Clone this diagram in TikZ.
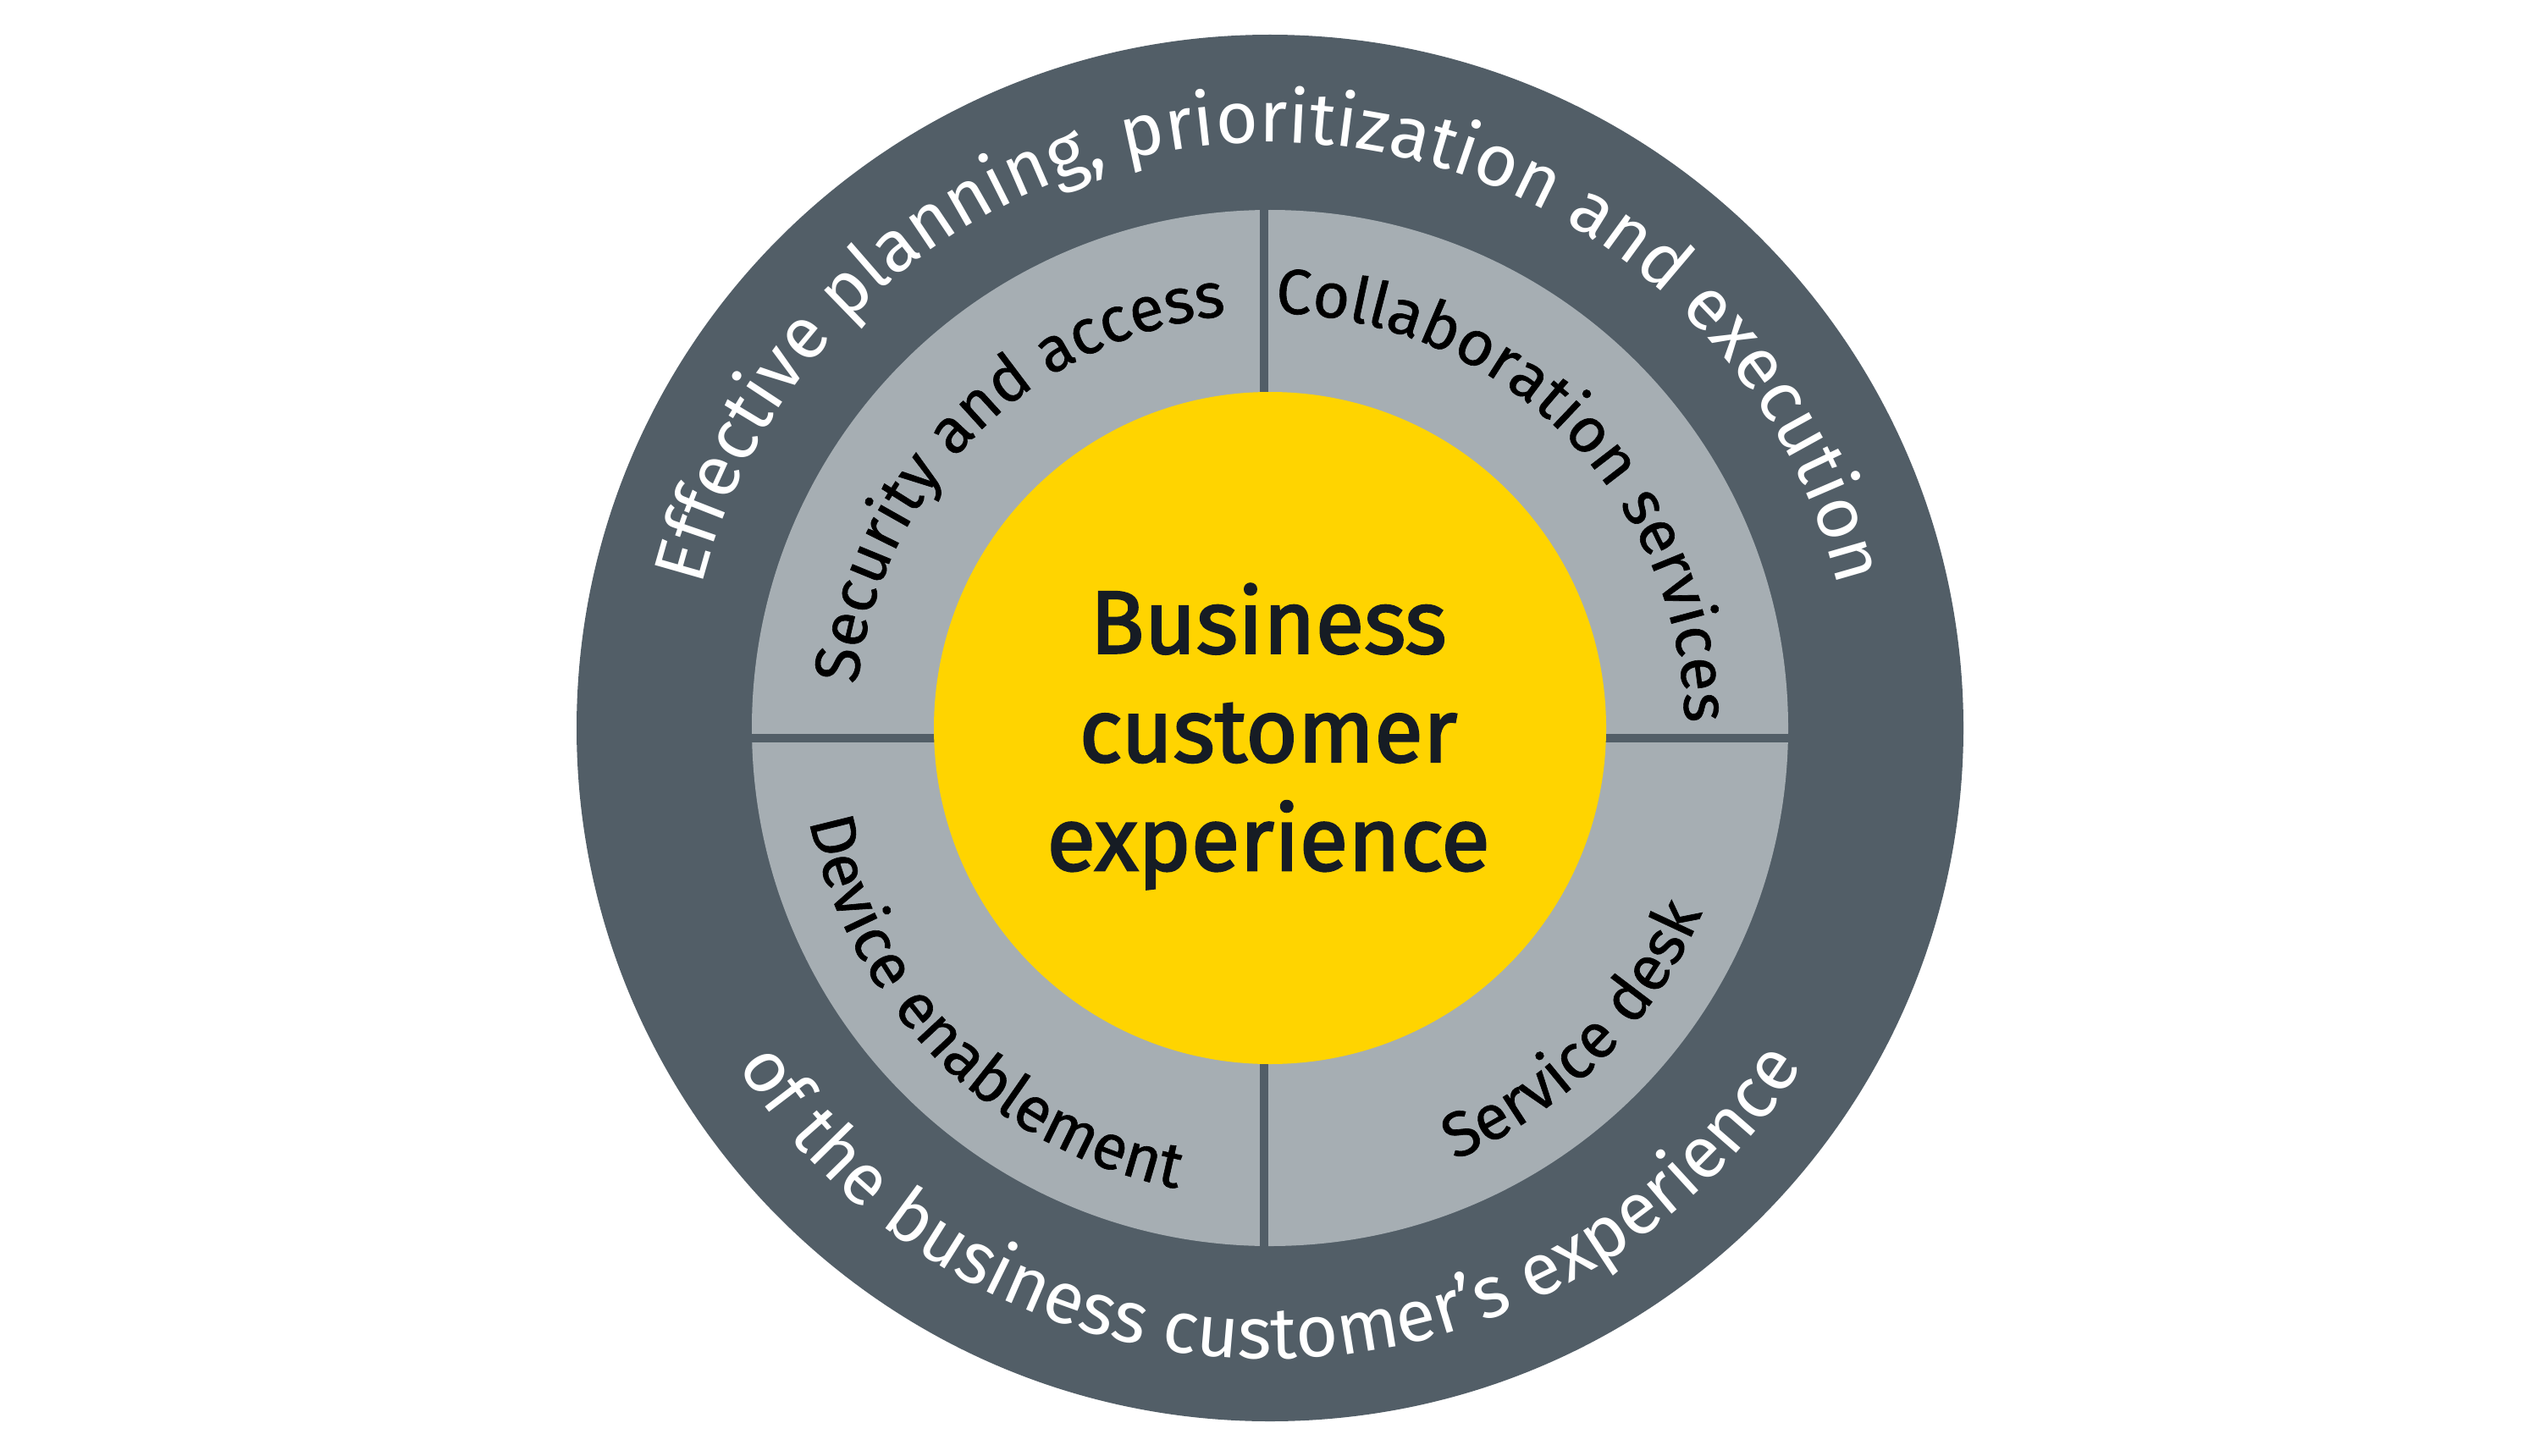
\documentclass[tikz,border=0pt]{standalone}
\usepackage{fontspec}
\setmainfont{Fira Sans}
\newfontfamily\ringfont{Fira Sans}[FakeBold=0.8]
\newfontfamily\corefont{Fira Sans}[FakeBold=2.2]
\usetikzlibrary{decorations.text}

\definecolor{slate}{HTML}{525E67}
\definecolor{ashgray}{HTML}{A6AEB3}
\definecolor{coreyellow}{HTML}{FFD400}
\definecolor{ink}{HTML}{161C24}

\begin{document}
\begin{tikzpicture}[
    divider/.style={draw=slate, line width=1mm},
    outerlabel/.style={decorate, decoration={text along path, text align=center,
        text={|\color{white}\fontsize{24.5}{30}\selectfont|#1}}},
    innerlabel/.style={decorate, decoration={text along path, text align=center,
        text={|\color{black}\ringfont\fontsize{21.3}{26}\selectfont|#1}}}
]
    \useasboundingbox (0,0) rectangle (30,17.19);
    \coordinate (c) at (15,8.59);

    % rings
    \fill[slate] (c) circle[radius=8.19];
    \fill[ashgray] (c) circle[radius=6.12];
    \draw[divider] ([xshift=-0.07cm]c) ++(0,-6.2) -- ++(0,12.4);
    \draw[divider] ([yshift=-0.12cm]c) ++(-6.2,0) -- ++(12.4,0);
    \fill[coreyellow] (c) circle[radius=3.97];

    \node[font=\corefont\fontsize{30}{36.5}\selectfont, text=ink, align=center] (core)
        at ([xshift=-0.02cm, yshift=-0.1cm]c) {Business\\customer\\experience};

    % outer ring text
    \path[outerlabel={Effective planning, prioritization and execution}]
        ([shift={(200:6.92)}]c) arc[start angle=200, end angle=-20, radius=6.92];
    \path[outerlabel={of the business customer's experience}]
        ([shift={(160:7.45)}]c) arc[start angle=160, end angle=380, radius=7.45];

    % inner ring text
    \path[innerlabel={Security and access}]
        ([shift={(200:4.9)}]c) arc[start angle=200, end angle=70, radius=4.9];
    \path[innerlabel={Collaboration services}]
        ([shift={(110:4.9)}]c) arc[start angle=110, end angle=-20, radius=4.9];
    \path[innerlabel={Device enablement}]
        ([shift={(160:5.55)}]c) arc[start angle=160, end angle=290, radius=5.55];
    \path[innerlabel={Service desk}]
        ([shift={(250:5.55)}]c) arc[start angle=250, end angle=380, radius=5.55];
\end{tikzpicture}
\end{document}
